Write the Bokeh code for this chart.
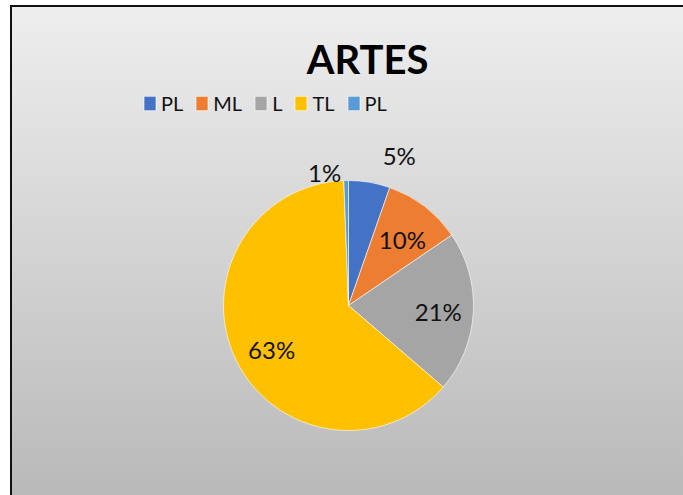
import math
from bokeh.plotting import figure
from bokeh.models import Range1d, ColumnDataSource, Legend, LegendItem, Label
from bokeh.core.properties import value
from bokeh.embed import file_html
from bokeh.resources import INLINE

# ---- data ----
title_text = "ARTES"
categories = ["PL", "ML", "L", "TL", "PL"]
counts = [9, 17, 35, 106, 1]
colors = ["#4472C4", "#ED7D31", "#A5A5A5", "#FFC000", "#5B9BD5"]

# ---- label placement styling (radius factor, clockwise nudge in degrees) ----
label_radius = [1.27, 0.68, 0.72, 0.71, 1.085]
label_nudge = [9.0, 1.8, 0.9, -4.2, -9.1]

ML, MT = 10, 5             # page offset of the chart box
W, H = 683 - ML, 495 - MT  # chart box size
CX, CY = 348 - ML, 305 - MT  # pie centre in box pixels from top-left
R = 125

total = sum(counts)
start, end, lx, ly, txt = [], [], [], [], []
acc = 0.0
for c, f, nd in zip(counts, label_radius, label_nudge):
    a0 = acc / total * 2 * math.pi
    acc += c
    a1 = acc / total * 2 * math.pi
    start.append(math.pi / 2 - a0)
    end.append(math.pi / 2 - a1)
    mid = math.pi / 2 - (a0 + a1) / 2 - math.radians(nd)
    lx.append(R * f * math.cos(mid))
    ly.append(R * f * math.sin(mid))
    txt.append(f"{round(c / total * 100)}%")

src = ColumnDataSource(dict(cat=categories, start=start, end=end, color=colors,
                            lx=lx, ly=ly, txt=txt))

p = figure(width=W, height=H, output_backend="svg", toolbar_location=None,
           x_range=Range1d(-CX, W - CX), y_range=Range1d(-(H - CY), CY),
           min_border=0, outline_line_color=None)
p.axis.visible = False
p.grid.visible = False
p.background_fill_alpha = 0
p.border_fill_alpha = 0
p.styles = {"background": "linear-gradient(to bottom, #EEEEEE, #B9B9B9)",
            "box-shadow": "inset 2px 2px 0 0 #111111",
            "margin-left": f"{ML}px", "margin-top": f"{MT}px"}

r = p.wedge(x=0, y=0, radius=R, start_angle="start", end_angle="end",
            direction="clock", fill_color="color", line_color="white",
            line_width=0.6, source=src)

p.text(x="lx", y="ly", text="txt", source=src, text_align="center",
       text_baseline="middle", text_font=value("Lato"), text_font_size="24px",
       text_color="#111111")

p.add_layout(Label(x=367 - 348, y=CY - 53.5, text=title_text, text_align="center",
                   text_baseline="middle", text_font="Lato", text_font_style="bold",
                   text_font_size="40px", text_color="black"))

items = [LegendItem(label=c, renderers=[r], index=i) for i, c in enumerate(categories)]
legend = Legend(items=items, orientation="horizontal", location=(132, H - 110),
                glyph_width=15, glyph_height=18, label_standoff=4, spacing=11,
                padding=0, margin=0, label_text_font="Lato", label_text_font_size="20px",
                label_text_color="#111111", background_fill_alpha=0,
                border_line_color=None, label_height=14, label_width=1)
p.add_layout(legend, "center")

open("out.html", "w").write(file_html(p, INLINE))
